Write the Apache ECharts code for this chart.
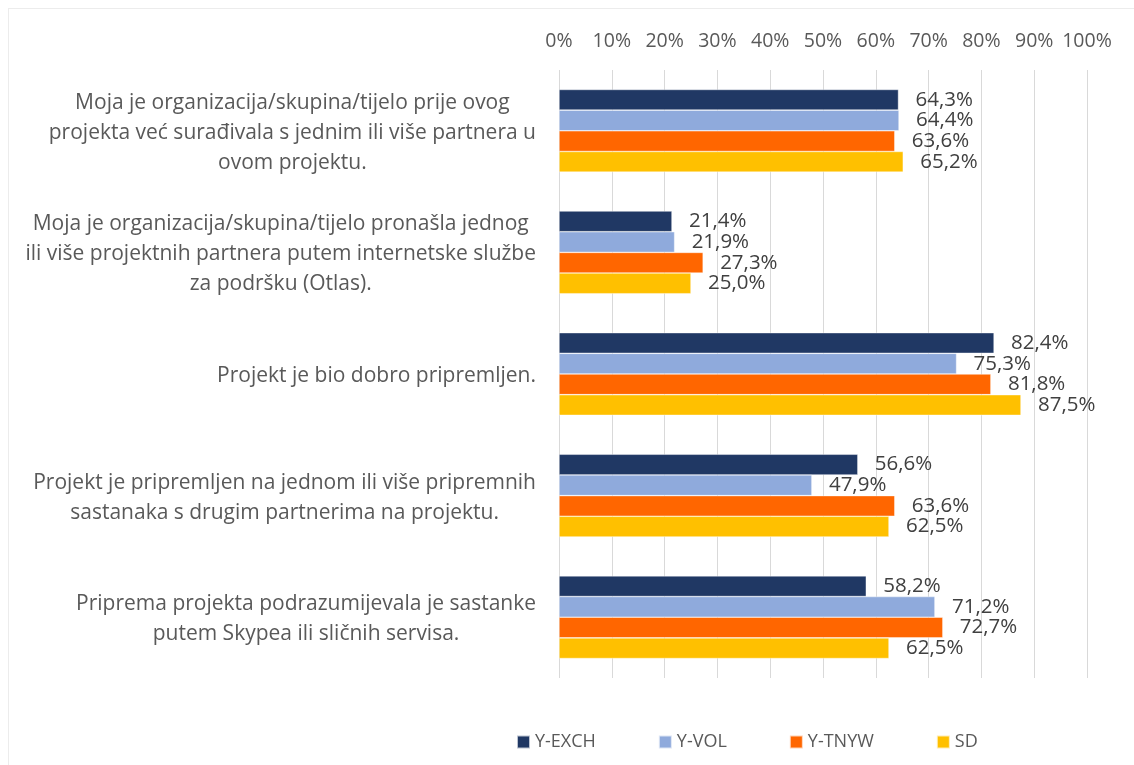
<!DOCTYPE html>
<html>
<head>
<meta charset="utf-8">
<script src="https://cdn.jsdelivr.net/npm/echarts@6/dist/echarts.min.js"></script>
<style>
html,body{margin:0;padding:0;background:#fff;overflow:hidden;}
#frame{position:absolute;left:8px;top:8px;width:1140px;height:770px;border:1px solid #ececec;box-sizing:border-box;}
#chart{position:absolute;left:0;top:0;width:1134px;height:765px;}
</style>
</head>
<body>
<div id="frame"></div>
<div id="chart"></div>
<script>
const categories = [
  "Moja je organizacija/skupina/tijelo prije ovog\nprojekta već surađivala s jednim ili više partnera u\novom projektu.",
  "Moja je organizacija/skupina/tijelo pronašla jednog\nili više projektnih partnera putem internetske službe\nza podršku (Otlas).",
  "Projekt je bio dobro pripremljen.",
  "Projekt je pripremljen na jednom ili više pripremnih\nsastanaka s drugim partnerima na projektu.",
  "Priprema projekta podrazumijevala je sastanke\nputem Skypea ili sličnih servisa."
];
const seriesNames = ["Y-EXCH", "Y-VOL", "Y-TNYW", "SD"];
const yExch = [64.3, 21.4, 82.4, 56.6, 58.2];
const yVol  = [64.4, 21.9, 75.3, 47.9, 71.2];
const yTnyw = [63.6, 27.3, 81.8, 63.6, 72.7];
const sd    = [65.2, 25.0, 87.5, 62.5, 62.5];
const colors = ["#203864", "#8faadc", "#ff6600", "#ffc000"];

const FONT = "'Open Sans', sans-serif";
const chart = echarts.init(document.getElementById('chart'));

function mk(name, data, color) {
  return {
    name: name,
    type: 'bar',
    data: data,
    barGap: '0%',
    barCategoryGap: '32%',
    itemStyle: { color: color, borderColor: 'rgba(255,255,255,0.7)', borderWidth: 0.6 },
    label: {
      show: true,
      position: 'right',
      distance: 17,
      color: '#404040',
      fontFamily: FONT,
      fontSize: 20.5,
      formatter: p => p.value.toFixed(1).replace('.', ',') + '%'
    }
  };
}

chart.setOption({
  animation: false,
  grid: { left: 559, right: 47, top: 70, bottom: 87, containLabel: false },
  legend: {
    data: seriesNames,
    left: 511,
    top: 728,
    icon: 'rect',
    itemWidth: 13,
    itemHeight: 13,
    itemGap: 62,
    textStyle: { color: '#595959', fontSize: 18, fontFamily: FONT, padding: [0, 0, 0, 0] }
  },
  xAxis: {
    type: 'value',
    position: 'top',
    min: 0, max: 100, interval: 10,
    axisLine: { show: false },
    axisTick: { show: false },
    splitLine: { show: true, lineStyle: { color: '#d9d9d9', width: 1 } },
    axisLabel: { formatter: '{value}%', color: '#595959', fontSize: 19.5, fontFamily: FONT, margin: 19 }
  },
  yAxis: {
    type: 'category',
    inverse: true,
    data: categories,
    axisLine: { show: false },
    axisTick: { show: false },
    axisLabel: {
      align: 'right',
      margin: 23,
      padding: [4, 0, 0, 0],
      color: '#595959',
      fontFamily: FONT,
      fontSize: 21,
      lineHeight: 30,
      formatter: v => v.split('\n').map(l => '{c|' + l + '}').join('\n'),
      rich: { c: { align: 'center', color: '#595959', fontFamily: FONT, fontSize: 21, lineHeight: 30 } }
    }
  },
  series: [
    mk(seriesNames[0], yExch, colors[0]),
    mk(seriesNames[1], yVol, colors[1]),
    mk(seriesNames[2], yTnyw, colors[2]),
    mk(seriesNames[3], sd, colors[3])
  ]
});
</script>
</body>
</html>
